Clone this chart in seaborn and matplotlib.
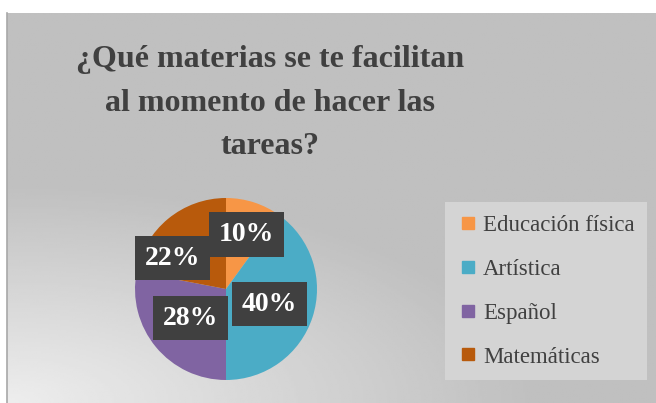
import numpy as np
import matplotlib
matplotlib.use("Agg")
import matplotlib.pyplot as plt
import seaborn as sns
from matplotlib.lines import Line2D

# data
categories = ["Educación física", "Artística", "Español", "Matemáticas"]
values = [10, 40, 28, 22]
colors = ["#F79646", "#4BACC6", "#8064A2", "#B85A0C"]
title = "¿Qué materias se te facilitan\nal momento de hacer las\ntareas?"
# label nudges (fraction of radius) to mimic Excel "best fit" placement
label_shift = [(0.03, 0.01), (-0.11, 0.025), (0.09, 0.075), (-0.195, -0.14)]

sns.set_theme(style="white")
plt.rcParams["font.family"] = ["Liberation Serif", "DejaVu Serif"]

fig = plt.figure(figsize=(6.56, 4.03), dpi=100)
fig.patch.set_facecolor("white")

# chart area background with soft gradient (light at bottom-left)
bg = fig.add_axes([7 / 656, 0, 1 - 7 / 656, 390 / 403])
yy, xx = np.mgrid[0:1:200j, 0:1:300j]
d = np.sqrt((xx * 1.1) ** 2 + ((1 - yy) * 1.6) ** 2)
shade = 0.93 - 0.18 * np.clip(d / 0.9, 0, 1)
bg.imshow(shade, cmap="gray", vmin=0, vmax=1, aspect="auto",
          extent=[0, 1, 0, 1], origin="upper")
bg.set_xticks([])
bg.set_yticks([])
for s in ["top", "right", "bottom"]:
    bg.spines[s].set_visible(False)
bg.spines["left"].set_color("#a8a8a8")
bg.spines["left"].set_linewidth(1.2)

fig.text(270 / 656, 1 - 103 / 403, title, ha="center", va="center",
         fontsize=23, fontweight="bold", color="#404040", linespacing=1.68)

ax = fig.add_axes([135 / 656, 23 / 403, 182 / 656, 182 / 403])
wedges, texts, autotexts = ax.pie(
    values, colors=colors, startangle=90, counterclock=False,
    autopct="%1.0f%%", pctdistance=0.62,
    wedgeprops=dict(linewidth=0),
    textprops=dict(color="white", fontsize=20, fontweight="bold"))
for t, (dx, dy) in zip(autotexts, label_shift):
    x, y = t.get_position()
    t.set_position((x + dx, y + dy))
    t.set_bbox(dict(boxstyle="square,pad=0.35", facecolor="#404040",
                    edgecolor="none"))
ax.set_xlim(-1, 1)
ax.set_ylim(-1, 1)
ax.set_aspect("equal")
ax.axis("off")

handles = [Line2D([0], [0], marker="s", linestyle="none", markersize=9,
                  markerfacecolor=c, markeredgecolor=c) for c in colors]
leg = fig.legend(handles, categories, loc="upper left",
                 bbox_to_anchor=(445 / 656, 1 - 202 / 403),
                 borderaxespad=0, frameon=True, fontsize=16.5,
                 labelspacing=1.0, handletextpad=0.2, handlelength=0.9,
                 borderpad=0.55, fancybox=False)
leg.get_frame().set_facecolor("#d4d4d4")
leg.get_frame().set_edgecolor("none")
leg.get_frame().set_alpha(1)
for t in leg.get_texts():
    t.set_color("#404040")

fig.savefig("out.png", dpi=100)
